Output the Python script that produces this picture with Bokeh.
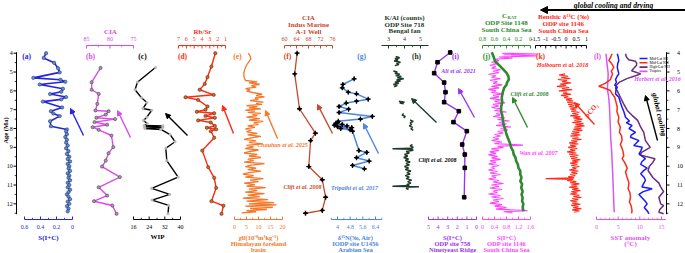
import math
from bokeh.plotting import figure
from bokeh.models import Range1d, Arrow, NormalHead, Label
from bokeh.core.properties import value
from bokeh.embed import file_html
from bokeh.resources import INLINE

NaN = float("nan")

# ---------------- data ----------------
a_age = [4.00, 4.25, 4.51, 4.80, 5.02, 5.31, 5.41, 5.52, 5.66, 5.89, 6.05, 6.17, 6.33, 6.45, 6.57, 6.88, 7.08, 7.20, 7.34, 7.61, 7.88, 8.05,
         8.15, 8.30, 8.45, 8.60, 8.75, 8.90, 9.05, 9.20, 9.35, 9.50, 9.62, 9.75, 9.88, 10.00, 10.12, 10.25, 10.38, 10.50, 10.62, 10.75,
         10.88, 11.00, 11.12, 11.25, 11.38, 11.50, 11.62, 11.75, 11.88, 12.00, 12.12, 12.25, 12.40]
a_sic = [0.33, 0.36, 0.23, 0.18, 0.16, 0.49, 0.15, 0.09, 0.41, 0.12, 0.14, 0.28, 0.08, 0.14, 0.37, 0.13, 0.27, 0.24, 0.16, 0.28, 0.27, 0.07,
         0.08, 0.07, 0.09, 0.07, 0.08, 0.06, 0.08, 0.05, 0.07, 0.04, 0.06, 0.03, 0.06, 0.04, 0.05, 0.03, 0.06, 0.04, 0.05, 0.03,
         0.06, 0.04, 0.06, 0.03, 0.05, 0.07, 0.05, 0.03, 0.06, 0.04, 0.07, 0.05, 0.06]

b_age = [4.78, 5.54, 5.94, 6.16, 6.69, 7.04, 7.08, 7.26, 7.43, 7.50, 7.66, 7.80, 7.93, 8.07, 8.37, 8.99, 9.31, 9.70, 10.02, 10.58,
         11.12, 11.56, 11.86, 12.09, 12.53]
b_cia = [82.0, 83.9, 83.9, 82.4, 82.7, 83.1, 80.3, 80.9, 82.9, 78.9, 83.3, 80.6, 83.7, 82.4, 79.7, 79.3, 80.3, 80.9, 81.7, 77.9,
         82.4, 80.6, 83.4, 79.5, 78.6]

c_age = [4.76, 5.54, 5.94, 6.37, 6.62, 6.94, 7.03, 7.40, 7.57, 7.75, 7.84, 7.86, 7.90, 7.95, 8.00, 8.05, 8.32, 8.70, 9.05, 9.70,
         10.58, 11.18, 11.50, 11.80, 12.08, 12.53]
c_wip = [27.2, 18.0, 16.8, 20.1, 22.8, 20.8, 25.3, 22.8, 21.1, 23.1, 21.5, 31.0, 21.5, 31.0, 21.8, 30.0, 34.7, 37.2, 32.5, 33.0,
         38.8, 25.3, 34.5, 25.5, 34.0, 33.6]

d_age = [4.00, 4.71, 5.27, 5.63, 5.94, 6.21, 6.34, 6.48, 6.83, 7.00, 7.11, 7.19, 7.33, 7.43, 7.57, 7.68, 7.86, 7.96, 8.04, 8.14,
         8.49, 9.17, 10.05, 10.62, 11.15, 11.86, 12.10, 12.53]
d_rbsr = [2.3, 2.8, 3.3, 3.65, 4.3, 2.5, 6.1, 4.5, 3.3, 3.55, 4.66, 2.44, 3.55, 2.36, 4.49, 2.88, 2.36, 3.39, 2.19, 2.88,
          2.44, 3.97, 3.21, 2.44, 2.19, 2.79, 1.26, 1.51]

e_age = [4.00, 4.15, 4.30, 4.45, 4.60, 4.75, 4.90, 5.05, 5.20, 5.35, 5.45, 5.52, 5.58, 5.65, 5.72, 5.80, 5.88, 5.95, 6.02, 6.10,
         6.18, 6.25, 6.32, 6.38, 6.45, 6.52, 6.60, 6.66, 6.72, 6.78, 6.84, 6.90, 6.96, 7.02, 7.08, 7.14, 7.20, 7.26, 7.32, 7.40,
         7.48, 7.55, 7.62, 7.70, 7.78, 7.86, 7.94, 8.02, 8.10, 8.18, 8.26, 8.34, 8.42, 8.50, 8.58, 8.66, 8.74, 8.82, 8.90, 8.98,
         9.06, 9.14, 9.22, 9.30, 9.38, 9.46, 9.54, 9.62, 9.70, 9.78, 9.86, 9.94, 10.02, 10.10, 10.18, 10.26, 10.34, 10.42, 10.50,
         10.58, 10.66, 10.74, 10.82, 10.90, 10.98, 11.06, 11.14, 11.22, 11.30, 11.38, 11.46, 11.54, 11.62, 11.70, 11.78, 11.86,
         11.94, 12.00, 12.06, 12.12, 12.18, 12.24, 12.30, 12.36, 12.42, 12.48]
e_chi = [5.8, 6.5, 6.8, 6.0, 5.2, 4.6, 4.2, 3.9, 3.9, 4.2, 4.6, 9.5, 6.0, 10.5, 7.0, 9.0, 4.6, 6.5, 5.0, 8.0,
         11.5, 9.0, 12.5, 8.5, 10.0, 6.5, 12.0, 9.0, 11.5, 5.0, 9.5, 6.0, 11.0, 4.5, 8.5, 5.5, 11.0, 7.5, 9.5, 5.0,
         10.5, 6.0, 12.0, 8.0, 10.0, 5.5, 8.5, 4.5, 7.0, 5.0, 9.5, 5.5, 11.0, 7.0, 4.0, 9.0, 6.0, 11.5, 5.0, 8.0,
         4.5, 10.0, 6.5, 4.0, 9.5, 6.0, 11.0, 5.5, 8.0, 4.0, 12.5, 7.0, 4.5, 9.0, 5.5, 11.0, 6.0, 3.5, 8.0,
         4.5, 12.0, 6.5, 10.0, 4.0, 8.5, 5.0, 13.0, 6.0, 9.5, 4.5, 12.5, 5.5, 10.5, 3.5, 14.0, 5.0,
         16.5, 6.0, 17.5, 4.5, 16.0, 6.5, 13.5, 5.0, 9.0, 3.0]

f_age = [4.00, 5.10, 6.95, 8.25, 8.64, 10.02, 10.72, 11.65, 12.35, 12.50]
f_cia = [64.2, 63.4, 65.0, 70.3, 68.7, 68.1, 72.6, 73.7, 72.6, 67.0]

g_age = [5.36, 5.66, 5.84, 6.07, 6.16, 6.44, 6.55, 6.65, 6.83, 6.97, 7.15, 7.36, 7.50, 7.62, 7.68, 7.72, 7.78, 7.82, 7.86, 7.90,
         7.95, 8.00, 8.07, 8.14, 9.17, 9.27, 9.55, 9.73, 9.96, 10.14]
g_d15n = [5.05, 4.34, 4.30, 4.68, 5.20, 5.94, 5.20, 4.55, 4.10, 4.70, 4.10, 6.20, 5.45, 4.05, 4.00, 3.90, 4.30, 3.80, 4.60, 4.00,
          4.90, 4.20, 4.80, 4.95, 5.35, 5.85, 5.20, 6.00, 4.95, 5.70]

h_age = [4.18, 4.24, 4.30, 4.36, 4.42, 4.48, 4.54, 4.60, 4.66, NaN,
         4.95, 5.00, 5.06, 5.12, 5.18, 5.24, 5.30, 5.36, 5.42, 5.48, 5.54, 5.60, 5.66, 5.72, 5.78, NaN,
         6.55, 6.60, 6.64, 6.68, NaN,
         7.20, 7.28, 7.36, 7.44, NaN,
         7.55, 7.62, 7.70, 7.78, 7.86, 7.94, 8.02, 8.10, NaN,
         8.85, 8.92, 9.00, 9.05, 9.08, 9.10, 9.16, 9.22, 9.30, 9.38, 9.46, 9.54, 9.62, 9.70, 9.78, 9.86, 9.94, 10.02, 10.10,
         10.18, 10.26, 10.34, 10.42, 10.50, 10.58, 10.66, 10.74, 10.82, 10.90, 10.97, 11.03, 11.06, 11.09, 11.12, 11.18, 11.24]
h_kal = [3.45, 3.70, 3.40, 3.60, 3.35, 3.75, 3.50, 3.65, 3.40, NaN,
         3.30, 3.55, 3.40, 3.70, 3.45, 3.80, 3.55, 3.95, 3.50, 3.75, 3.40, 3.65, 3.30, 3.55, 3.35, NaN,
         3.65, 4.00, 3.70, 3.95, NaN,
         3.95, 3.85, 4.05, 3.95, NaN,
         4.35, 4.55, 4.35, 4.45, 4.30, 4.50, 4.40, 4.55, NaN,
         4.50, 4.35, 4.55, 4.45, 3.25, 4.40, 4.55, 4.10, 4.30, 4.00, 4.20, 3.95, 4.25, 4.05, 4.35, 4.10, 4.30, 4.00, 4.25,
         4.05, 4.40, 4.15, 4.35, 4.05, 4.30, 4.10, 4.45, 4.20, 4.40, 4.15, 4.30, 3.25, 4.90, 4.30, 4.10, 4.25]

i_age = [3.96, 4.48, 5.06, 5.56, 6.07, 6.60, 7.08, 7.66, 8.14, 8.85, 9.38, 10.09, 11.65]
i_sic = [2.74, 4.06, 4.41, 3.37, 3.23, 3.37, 1.84, 2.40, 1.01, 1.49, 1.22, 1.22, 1.28]

j_crat_age = [3.95, 4.15, 4.43, 4.65, 4.87, 5.05, 5.22, 5.40, 5.55, 5.67, 5.85, 6.05, 6.37, 6.60, 6.85, 7.08, 7.30, 7.55, 7.79,
              8.05, 8.32, 8.55, 8.80, 9.03, 9.20, 9.38, 9.55, 9.72, 9.91, 10.10, 10.25, 10.44, 10.60, 10.80, 10.95, 11.15,
              11.35, 11.50, 11.68, 11.85, 12.00, 12.20, 12.39]
j_crat = [0.645, 0.62, 0.59, 0.52, 0.45, 0.40, 0.37, 0.36, 0.39, 0.40, 0.44, 0.46, 0.48, 0.47, 0.49, 0.49, 0.47, 0.46, 0.45,
          0.42, 0.40, 0.37, 0.34, 0.32, 0.29, 0.28, 0.25, 0.24, 0.21, 0.20, 0.17, 0.17, 0.15, 0.17, 0.14, 0.155,
          0.13, 0.15, 0.13, 0.14, 0.12, 0.13, 0.117]

j_sic_age = [4.00, 4.04, 4.08, 4.14, 4.20, 4.26, 4.32, 4.40, 4.48, 4.56, 4.64, 4.72, 4.80, 4.88, 4.96, 5.04, 5.12, 5.20, 5.28, 5.36,
             5.44, 5.52, 5.60, 5.68, 5.76, 5.84, 5.92, 6.00, 6.08, 6.16, 6.24, 6.32, 6.40, 6.48, 6.56, 6.64, 6.72, 6.80, 6.88,
             6.96, 7.04, 7.12, 7.20, 7.28, 7.36, 7.44, 7.52, 7.60, 7.68, 7.76, 7.84, 7.92, 8.00, 8.08, 8.16, 8.24, 8.32, 8.40,
             8.48, 8.56, 8.64, 8.72, 8.80, 8.88, 8.94, 9.00, 9.08, 9.16, 9.24, 9.32, 9.40, 9.48, 9.56, 9.64, 9.72, 9.80, 9.88,
             9.96, 10.04, 10.12, 10.20, 10.28, 10.36, 10.44, 10.52, 10.60, 10.68, 10.76, 10.84, 10.92, 11.00, 11.08, 11.16,
             11.24, 11.32, 11.40, 11.48, 11.56, 11.64, 11.72, 11.80, 11.88, 11.96, 12.04, 12.12, 12.20, 12.28, 12.36, 12.42, 12.48]
j_sic = [0.65, 1.85, 0.70, 1.80, 0.55, 1.00, 0.40, 0.55, 0.30, 0.50, 0.25, 0.45, 0.30, 0.60, 0.35, 0.55, 0.20, 0.45, 0.30, 0.60,
         0.25, 0.50, 0.35, 0.65, 0.30, 0.55, 0.20, 0.45, 0.30, 0.70, 0.35, 0.55, 0.25, 0.60, 0.40, 0.75, 0.35, 0.55, 0.30,
         0.65, 0.40, 0.80, 0.45, 0.60, 0.35, 0.75, 0.50, 0.90, 0.55, 0.80, 0.45, 0.95, 0.60, 0.85, 0.50, 0.70, 0.40, 0.60,
         0.35, 0.55, 0.30, 0.65, 0.40, 1.35, 0.50, 0.70, 0.30, 0.55, 0.25, 0.45, 0.20, 0.50, 0.30, 0.60, 0.25, 0.45, 0.20,
         0.55, 0.30, 0.40, 0.20, 0.50, 0.25, 0.60, 0.30, 0.45, 0.20, 0.55, 0.35, 0.70, 0.30, 0.55, 0.25,
         0.65, 0.35, 0.50, 0.20, 0.60, 0.30, 0.70, 0.35, 0.55, 0.25, 0.65, 0.40, 0.80, 0.45, 1.50, 0.70, 1.00]

k_age = [5.10, 5.16, 5.22, 5.28, 5.34, 5.40, 5.46, 5.52, 5.58, 5.64, 5.70, 5.76, 5.82, 5.88, 5.94, 6.00, 6.06, 6.12, 6.18, 6.24,
         6.30, 6.36, 6.42, 6.48, 6.54, 6.60, 6.66, 6.72, 6.78, 6.84, 6.90, 6.96, 7.02, 7.08, 7.14, 7.20, 7.26, 7.32, 7.38, 7.44,
         7.50, 7.56, 7.62, 7.68, 7.74, 7.80, 7.86, 7.92, 7.98, 8.04, 8.10, 8.16, 8.22, 8.28, 8.34, 8.40, 8.46, 8.52, 8.58, 8.64,
         8.70, 8.76, 8.82, 8.88, 8.94, 9.00, 9.06, 9.12, 9.18, 9.24, 9.30, 9.36, 9.42, 9.48, 9.54, 9.60, 9.66, 9.72, 9.78, 9.84,
         9.90, 9.96, 10.02, 10.08, 10.14, 10.20, 10.26, 10.32, 10.38, 10.44, 10.50, 10.56, 10.62, 10.66, 10.70, 10.76, 10.82,
         10.88, 10.94, 11.00, 11.06, 11.12, 11.18, 11.24, 11.30, 11.36, 11.42, 11.48, 11.54, 11.60, 11.66, 11.72, 11.78, 11.84,
         11.90, 11.96, 12.02, 12.08, 12.14, 12.20, 12.26, 12.32, 12.38, 12.44]
k_d13c = [-0.05, -0.35, 0.10, -0.25, 0.20, -0.40, 0.05, -0.20, 0.25, -0.30, 0.00, -0.45, 0.15, -0.20, 0.30, -0.35, 0.05, -0.15, 0.25, -0.25,
          0.10, -0.10, 0.30, 0.00, 0.35, 0.05, 0.45, 0.10, 0.40, 0.15, 0.55, 0.20, 0.50, 0.25, 0.65, 0.30, 0.60, 0.20, 0.70, 0.35,
          0.80, 0.40, 0.75, 0.30, 0.85, 0.45, 0.90, 0.40, 0.75, 0.35, 0.80, 0.30, 0.65, 0.25, 0.70, 0.20, 0.60, 0.30, 0.75, 0.25,
          0.55, 0.15, 0.60, 0.20, 0.50, 0.10, 0.55, 0.20, 0.45, 0.05, 0.50, 0.15, 0.60, 0.20, 0.55, 0.25, 0.70, 0.30, 0.60, 0.20,
          0.55, 0.25, 0.65, 0.30, 0.50, 0.15, 0.60, 0.25, 0.55, 0.20, 0.45, 0.10, 0.40, -1.00, 0.35, 0.05, 0.50,
          0.20, 0.65, 0.25, 0.55, 0.15, 0.60, 0.30, 0.70, 0.25, 0.55, 0.20, 0.65, 0.35, 0.75, 0.30, 0.60, 0.20,
          0.55, 0.30, 0.70, 0.25, 0.60, 0.35, 0.75, 0.30, 0.65, 0.40]

l_trop_age = [4.03, 4.50, 5.10, 5.60, 5.90, 6.30, 6.85, 7.40, 8.00, 8.60, 9.20, 9.70, 10.20, 10.75, 11.40, 12.00, 12.45]
l_trop = [2.2, 2.4, 2.7, 2.6, 2.5, 2.8, 3.0, 3.1, 3.2, 3.3, 3.5, 3.6, 3.7, 3.8, 3.9, 4.0, 4.1]

l_nh_age = [4.03, 4.20, 4.39, 4.55, 4.75, 4.95, 5.10, 5.40, 5.60, 5.76, 5.85, 5.98, 6.15, 6.34, 6.60, 6.87, 7.10, 7.40, 7.65, 7.93,
            8.20, 8.40, 8.64, 8.85, 9.00, 9.20, 9.45, 9.60, 9.80, 10.10, 10.30, 10.55, 10.90, 11.20, 11.40, 11.65, 11.90, 12.10,
            12.36, 12.50]
l_nh = [3.6, 3.3, 2.85, 3.5, 4.0, 3.4, 3.7, 3.2, 2.0, 0.5, 1.8, 3.2, 3.6, 4.2, 4.5, 4.8, 4.7, 5.15, 5.0, 5.5,
        5.3, 5.8, 5.9, 5.5, 5.8, 6.1, 6.3, 5.9, 6.5, 7.1, 6.7, 7.0, 7.5, 7.3, 7.7, 7.85, 7.6, 8.0,
        8.2, 8.1]

l_sh_age = [4.03, 4.20, 4.39, 4.55, 4.75, 4.95, 5.10, 5.25, 5.40, 5.55, 5.70, 5.80, 5.95, 6.16, 6.34, 6.60, 6.87, 7.10, 7.40, 7.60,
            7.70, 7.84, 8.00, 8.20, 8.35, 8.46, 8.64, 8.90, 9.00, 9.20, 9.35, 9.60, 9.75, 9.90, 10.10, 10.25, 10.40, 10.60, 10.75,
            10.95, 11.10, 11.20, 11.35, 11.50, 11.70, 11.85, 12.00, 12.20, 12.40, 12.53]
l_sh = [4.8, 5.0, 5.15, 4.9, 4.8, 5.0, 5.15, 4.7, 4.4, 4.6, 4.2, 4.8, 4.5, 4.4, 5.15, 5.5, 5.9, 6.3, 6.7, 7.6,
        6.9, 8.2, 7.5, 9.0, 8.0, 7.85, 9.8, 8.6, 10.55, 10.2, 9.8, 11.3, 10.5, 10.2, 11.7, 10.8, 10.2, 11.0, 11.3,
        10.8, 10.5, 12.85, 10.8, 9.8, 10.6, 11.2, 11.7, 11.0, 11.8, 12.1]

l_hnh_age = [4.03, 4.20, 4.35, 4.43, 4.55, 4.65, 4.80, 4.93, 5.10, 5.20, 5.35, 5.55, 5.70, 5.85, 6.00, 6.34, 6.70, 7.04, 7.30, 7.57,
             7.93, 8.20, 8.64, 9.00, 9.25, 9.40, 9.60, 9.80, 10.00, 10.23, 10.60, 10.90, 11.10, 11.35, 11.65, 12.00, 12.09,
             12.30, 12.45, 12.53]
l_hnh = [6.7, 6.9, 7.45, 9.0, 9.3, 9.2, 8.6, 8.1, 10.2, 9.0, 7.0, 5.2, 4.6, 4.4, 4.8, 5.5, 6.3, 7.1, 8.2, 9.5,
         10.2, 10.9, 11.3, 12.4, 10.5, 10.0, 13.5, 13.0, 12.2, 11.9, 13.0, 14.4, 14.8, 15.5, 14.4, 14.8, 15.5,
         14.6, 14.4, 15.5]

age_ticks = [4, 5, 6, 7, 8, 9, 10, 11, 12]
age_minor = [4.5, 5.5, 6.5, 7.5, 8.5, 9.5, 10.5, 11.5, 12.5]
legend_names = ["Mid-Lat SH", "Mid-Lat NH", "High-Lat NH", "Tropics"]

# ---------------- figure ----------------
W, H = 685, 253
Y_AGE4 = 52.7
PX_PER_MA = 18.83
FONT = "Liberation Serif"

p = figure(width=W, height=H, x_range=Range1d(0, W), y_range=Range1d(H, 0),
           x_axis_type=None, y_axis_type=None, toolbar_location=None,
           output_backend="svg", min_border=0, outline_line_color=None,
           background_fill_color="white", border_fill_color="white")


def span(v1, p1, v2, p2):
    k = (v2 - v1) / (p2 - p1)
    return Range1d(start=v1 - k * p1, end=v1 + k * (W - p1))


p.extra_y_ranges = {"age": Range1d(start=4 + (H - Y_AGE4) / PX_PER_MA, end=4 - Y_AGE4 / PX_PER_MA)}
p.extra_x_ranges = {
    "a": span(0.6, 24, 0, 72),
    "b": span(85, 86, 75, 133),
    "c": span(16, 133, 40, 180),
    "d": span(7, 178, 1, 225),
    "e": span(0, 234, 20, 282),
    "f": span(60, 284, 76, 332),
    "g": span(4, 337, 6.4, 375),
    "h": span(3, 388, 5, 420),
    "i": span(5, 428, 0, 476),
    "jc": span(0.8, 482, 0, 530),
    "js": span(0, 482, 1.6, 530),
    "k": span(-1.5, 535, 1, 586),
    "l": span(0, 596, 15, 661),
}

C_A = "#2424e0"
C_B = "#de48ee"
C_D = "#ff2a10"
C_E = "#f5782a"
C_F = "#c9472b"
C_G = "#4d85e0"
C_H = "#1d3b2a"
C_I = "#9a35ea"
C_J = "#2f8a2f"
C_JS = "#ff44ff"
C_K = "#ff2a1a"
C_LB = "#1a1aff"
C_LR = "#ff2a1a"
C_LP = "#6c2d7e"
C_LM = "#dd55f5"


def haxis(name, side, lo, hi, major, labels, minor, color, lab_color=None):
    y = 45 if side == "top" else 219
    d = 1 if side == "top" else -1
    ly = 38.8 if side == "top" else 226.8
    lab_color = lab_color or color
    p.segment(x0=[lo], x1=[hi], y0=[y], y1=[y], x_range_name=name, line_color=color, line_width=1)
    p.segment(x0=major, x1=major, y0=[y] * len(major), y1=[y + 3 * d] * len(major),
              x_range_name=name, line_color=color, line_width=1)
    if minor:
        p.segment(x0=minor, x1=minor, y0=[y] * len(minor), y1=[y + 1.8 * d] * len(minor),
                  x_range_name=name, line_color=color, line_width=0.8)
    p.text(x=major, y=[ly] * len(major), text=labels, x_range_name=name, text_color=lab_color,
           text_font=value(FONT), text_font_size="6px", text_align="center", text_baseline="middle")


haxis("a", "bottom", 0.6, 0, [0.6, 0.4, 0.2, 0], ["0.6", "0.4", "0.2", "0"], [0.5, 0.3, 0.1], C_A)
haxis("b", "top", 85, 75, [85, 80, 75], ["85", "80", "75"], [82.5, 77.5], C_B)
haxis("c", "bottom", 16, 40, [16, 24, 32, 40], ["16", "24", "32", "40"], [20, 28, 36], "black")
haxis("d", "top", 7, 1, [7, 6, 5, 4, 3, 2, 1], ["7", "6", "5", "4", "3", "2", "1"],
      [6.5, 5.5, 4.5, 3.5, 2.5, 1.5], C_D)
haxis("e", "bottom", 0, 20, [0, 5, 10, 15, 20], ["0", "5", "10", "15", "20"],
      [2.5, 7.5, 12.5, 17.5], C_E)
haxis("f", "top", 60, 76, [60, 64, 68, 72, 76], ["60", "64", "68", "72", "76"], [62, 66, 70, 74], C_F)
haxis("g", "bottom", 3.6, 6.8, [4, 4.8, 5.6, 6.4], ["4", "4.8", "5.6", "6.4"],
      [3.6, 4.4, 5.2, 6.0, 6.8], C_G)
haxis("h", "top", 2.56, 5.5, [3, 4, 5], ["3", "4", "5"], [3.5, 4.5], C_H)
haxis("i", "bottom", 5, 0, [5, 4, 3, 2, 1, 0], ["5", "4", "3", "2", "1", "0"],
      [4.5, 3.5, 2.5, 1.5, 0.5], C_I)
haxis("jc", "top", 0.8, 0, [0.8, 0.6, 0.4, 0.2, 0], ["0.8", "0.6", "0.4", "0.2", "0"],
      [0.7, 0.5, 0.3, 0.1], C_J)
haxis("js", "bottom", 0, 1.6, [0, 0.4, 0.8, 1.2, 1.6], ["0", "0.4", "0.8", "1.2", "1.6"],
      [0.2, 0.6, 1.0, 1.4], C_JS)
haxis("k", "top", -1.5, 1, [-1.5, -1, -0.5, 0, 0.5, 1], ["-1.5", "-1", "-0.5", "0", "0.5", "1"],
      [-1.25, -0.75, -0.25, 0.25, 0.75], "black")
haxis("l", "bottom", 0, 16, [0, 5, 10, 15], ["0", "5", "10", "15"],
      [1, 2, 3, 4, 6, 7, 8, 9, 11, 12, 13, 14], C_LM)


# age axes (left and right)
def vaxis(x, d, lab_x, align):
    p.segment(x0=[x], x1=[x], y0=[3.95], y1=[12.55], y_range_name="age", line_color="black", line_width=1)
    p.segment(x0=[x] * len(age_ticks), x1=[x + 3 * d] * len(age_ticks), y0=age_ticks, y1=age_ticks,
              y_range_name="age", line_color="black", line_width=1)
    p.segment(x0=[x] * len(age_minor), x1=[x + 1.8 * d] * len(age_minor), y0=age_minor, y1=age_minor,
              y_range_name="age", line_color="black", line_width=0.8)
    p.text(x=[lab_x] * len(age_ticks), y=age_ticks, text=[str(t) for t in age_ticks], y_range_name="age",
           text_font=value(FONT), text_font_size="6px", text_align=align, text_baseline="middle",
           text_color="black")


vaxis(16, -1, 12.2, "right")
vaxis(666, 1, 676.5, "left")

# ---------------- series ----------------
p.line(a_sic, a_age, x_range_name="a", y_range_name="age", line_color=C_A, line_width=1.6)
p.scatter(a_sic, a_age, x_range_name="a", y_range_name="age", size=3.4, fill_color="#5d8fcf",
          line_color="#1c2860", line_width=0.5)

p.line(b_cia, b_age, x_range_name="b", y_range_name="age", line_color=C_B, line_width=1.4)
p.scatter(b_cia, b_age, x_range_name="b", y_range_name="age", size=3.2, fill_color="#a39aa6",
          line_color="#3a2a3a", line_width=0.5)

p.line(c_wip, c_age, x_range_name="c", y_range_name="age", line_color="black", line_width=1.4)
p.scatter(c_wip, c_age, x_range_name="c", y_range_name="age", size=2.6, fill_color="#b8b8b8",
          line_color="#b8b8b8", line_width=0.4)

p.line(d_rbsr, d_age, x_range_name="d", y_range_name="age", line_color=C_D, line_width=1.4)
p.scatter(d_rbsr, d_age, x_range_name="d", y_range_name="age", size=3.3, fill_color="#cf6a2a",
          line_color="#4a1a08", line_width=0.5)

p.line(e_chi, e_age, x_range_name="e", y_range_name="age", line_color=C_E, line_width=1.3)

p.line(f_cia, f_age, x_range_name="f", y_range_name="age", line_color=C_F, line_width=1.3)
p.scatter(f_cia, f_age, x_range_name="f", y_range_name="age", marker="cross", size=5,
          line_color="black", line_width=1.3)
p.scatter(f_cia, f_age, x_range_name="f", y_range_name="age", marker="circle", size=2.2,
          fill_color="black", line_color="black")

p.line(g_d15n, g_age, x_range_name="g", y_range_name="age", line_color=C_G, line_width=1.5)
p.scatter(g_d15n, g_age, x_range_name="g", y_range_name="age", marker="cross", size=5,
          line_color="black", line_width=1.3)
p.scatter(g_d15n, g_age, x_range_name="g", y_range_name="age", marker="circle", size=2.2,
          fill_color="black", line_color="black")

p.line(h_kal, h_age, x_range_name="h", y_range_name="age", line_color=C_H, line_width=1.5)

p.line(i_sic, i_age, x_range_name="i", y_range_name="age", line_color=C_I, line_width=1.4)
p.scatter(i_sic, i_age, x_range_name="i", y_range_name="age", marker="square", size=3.6,
          fill_color="black", line_color="black")

p.line(j_sic, j_sic_age, x_range_name="js", y_range_name="age", line_color=C_JS, line_width=1.1)
p.line(j_crat, j_crat_age, x_range_name="jc", y_range_name="age", line_color=C_J, line_width=2.6)

p.line(k_d13c, k_age, x_range_name="k", y_range_name="age", line_color=C_K, line_width=1.1)

p.line(l_trop, l_trop_age, x_range_name="l", y_range_name="age", line_color=C_LM, line_width=1.5)
p.line(l_nh, l_nh_age, x_range_name="l", y_range_name="age", line_color=C_LR, line_width=1.5)
p.line(l_hnh, l_hnh_age, x_range_name="l", y_range_name="age", line_color=C_LP, line_width=1.5)
p.line(l_sh, l_sh_age, x_range_name="l", y_range_name="age", line_color=C_LB, line_width=1.5)

# legend of panel (l)
leg_cols = [C_LB, C_LR, C_LP, C_LM]
leg_y = [58.0, 62.3, 66.6, 70.9]
p.segment(x0=[639] * 4, x1=[647] * 4, y0=leg_y, y1=leg_y, line_color=leg_cols, line_width=1.6)
p.text(x=[649] * 4, y=leg_y, text=legend_names, text_font=value(FONT), text_font_size="3.8px",
       text_align="left", text_baseline="middle", text_color="black")


# ---------------- texts ----------------
def lab(x, y, t, color, size=7, style="bold", align="center", angle=0.0):
    p.add_layout(Label(x=x, y=y, text=t, text_color=color, text_font=FONT, text_font_size=f"{size}px",
                       text_font_style=style, text_align=align, text_baseline="middle", angle=angle))


# panel letters
for x, t, c in [(26, "(a)", C_A), (90, "(b)", C_B), (142, "(c)", "black"), (182, "(d)", C_D),
                (237, "(e)", C_E), (287, "(f)", C_F), (361, "(g)", C_G), (416, "(h)", C_H),
                (455, "(i)", C_I), (486, "(j)", C_J), (540, "(k)", C_K), (597, "(l)", C_LM)]:
    lab(x, 55.5, t, c, size=7.5)

# axis titles, top
lab(110, 31, "CIA", C_B)
lab(202, 31, "Rb/Sr", C_D)
for y, t in [(17.5, "CIA"), (24.5, "Indus Marine"), (31, "A-1 Well")]:
    lab(308, y, t, C_F)
for y, t in [(17, "K/Al (counts)"), (24, "ODP Site 718"), (30.5, "Bengal fan")]:
    lab(404, y, t, C_H)
lab(504, 15.5, "C", C_J)
lab(507, 17, "RAT", C_J, size=4.5, align="left")
for y, t in [(22.5, "ODP Site 1148"), (29.5, "South China Sea")]:
    lab(506, y, t, C_J)
for y, t in [(16, "Benthic δ¹³C (‰)"), (23, "ODP site 1146"), (30, "South China Sea")]:
    lab(563, y, t, C_K)

# axis titles, bottom
BT = [236.8, 243.2, 249.2]
lab(48, 237, "S(I+C)", C_A)
lab(157, 236, "WIP", "black")
for y, t in zip(BT, ["χlf(10⁻⁸m³kg⁻¹)", "Himalayan foreland", "basin"]):
    lab(258, y, t, C_E, size=6.5)
for y, t in zip(BT, ["δ¹⁵N(‰, Air)", "IODP site U1456", "Arabian Sea"]):
    lab(355, y, t, C_G, size=6.5)
for y, t in zip(BT, ["S(I+C)", "ODP site 758", "Ninetyeast Ridge"]):
    lab(452, y, t, C_I, size=6.5)
for y, t in zip(BT, ["S(I+C)", "ODP site 1146", "South China Sea"]):
    lab(506, y, t, C_JS, size=6.5)
lab(630, 237, "SST anomaly", C_LM)
lab(630, 243.8, "(°C)", C_LM)

lab(4.5, 130, "Age (Ma)", "black", size=6.5, angle=math.pi / 2)

# references
lab(282, 144, "Chauhan et al. 2025", C_E, size=6, style="bold italic")
lab(302, 186, "Clift et al. 2008", C_F, size=6, style="bold italic")
lab(354, 187, "Tripathi et al. 2017", C_G, size=6, style="bold italic")
lab(437, 159, "Clift et al. 2008", "black", size=6, style="bold italic")
lab(458, 70, "Ali et al. 2021", C_I, size=6, style="bold italic")
lab(529, 93, "Clift et al. 2008", C_J, size=6, style="bold italic")
lab(538, 152, "Wan et al. 2007", C_JS, size=6, style="bold italic")
lab(562, 64, "Holbourn et al. 2018", C_K, size=6, style="bold italic")
lab(657, 78, "Herbert et al. 2016", C_LM, size=6, style="bold italic")
lab(591, 110, "pCO₂", C_K, size=7, style="bold", angle=0.85)
lab(659, 114, "global cooling", "black", size=7.5, style="bold italic", angle=-1.35)
lab(613, 4.5, "global cooling and drying", "black", size=7.5, style="bold italic")

# arrows
for (x0, y0, x1, y1, c) in [(83, 135, 70, 108, C_A), (130, 137, 117, 110, C_B), (187, 135, 165, 113, "black"),
                            (233, 133, 222, 105, C_D), (277, 138, 265, 110, C_E), (332, 133, 317, 104, C_F),
                            (378, 153, 363, 123, C_G), (436, 122, 411, 98, C_H), (474, 117, 458, 88, C_I),
                            (527, 127, 512, 97, C_J), (594, 124, 574, 102, C_K), (657, 140, 645, 95, "black")]:
    p.add_layout(Arrow(end=NormalHead(size=5, fill_color=c, line_color=c, line_width=1),
                       x_start=x0, y_start=y0, x_end=x1, y_end=y1, line_color=c, line_width=1.4))
p.add_layout(Arrow(end=NormalHead(size=7, fill_color="black", line_color="black"),
                   x_start=686, y_start=9.5, x_end=540, y_end=9.5, line_color="black", line_width=1.8))

open("out.html", "w").write(file_html(p, INLINE))
